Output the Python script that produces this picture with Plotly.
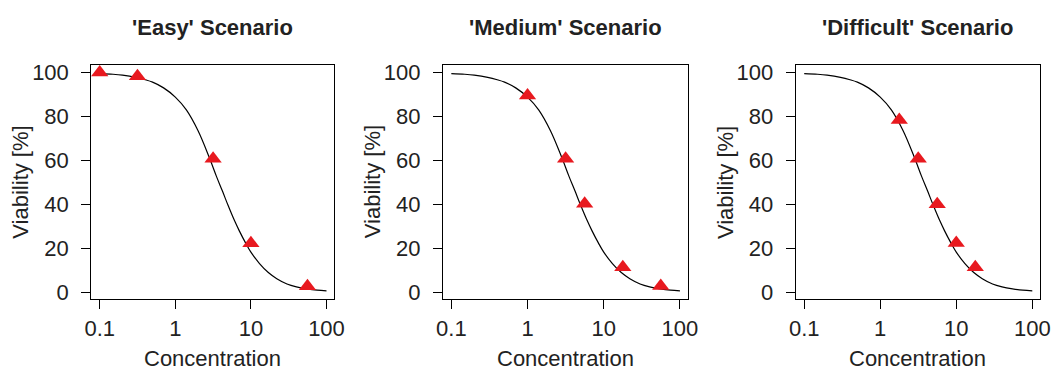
import plotly.graph_objects as go

W, H = 1062, 371

titles = ["'Easy' Scenario", "'Medium' Scenario", "'Difficult' Scenario"]

# observed points (concentration, viability %)
easy_x = [0.1, 0.316, 3.16, 10.0, 56.0]
easy_y = [100.0, 98.3, 60.7, 22.2, 2.7]
medium_x = [1.0, 3.16, 5.62, 17.8, 56.0]
medium_y = [89.5, 60.7, 40.2, 11.3, 2.8]
difficult_x = [1.78, 3.16, 5.62, 10.0, 17.8]
difficult_y = [78.4, 60.7, 40.0, 22.4, 11.3]

# fitted curve at sample concentrations
curve_x = [0.1, 0.15, 0.2, 0.3, 0.4, 0.5, 0.7, 1.0, 1.4, 2.0, 2.8, 3.5, 4.2, 5.0,
           6.0, 7.0, 8.5, 10.0, 13.0, 17.0, 22.0, 30.0, 40.0, 55.0, 75.0, 100.0]
curve_y = [99.5, 99.2, 98.8, 97.8, 96.7, 95.6, 93.0, 88.8, 83.0, 73.5, 61.5, 52.7,
           46.0, 39.4, 32.9, 28.0, 22.4, 18.2, 13.0, 8.9, 6.1, 3.7, 2.4, 1.5, 0.9, 0.6]

x_ticks = [0.1, 1, 10, 100]
x_ticktext = ["0.1", "1", "10", "100"]
y_ticks = [0, 20, 40, 60, 80, 100]

points = [(easy_x, easy_y), (medium_x, medium_y), (difficult_x, difficult_y)]

# plot box pixel extents (left, right) per panel, and vertical box
boxes = [(85.7, 332.7), (443.3, 692.3), (802.3, 1050.7)]
box_top, box_bottom = 61.7, 302.5

FONT = "Liberation Sans, Arial, Helvetica, sans-serif"
TXT = "#222222"

fig = go.Figure()
annotations = []
for i, ((px, py), (l, r)) in enumerate(zip(points, boxes)):
    xa = "x" if i == 0 else f"x{i+1}"
    ya = "y" if i == 0 else f"y{i+1}"
    fig.add_trace(go.Scatter(x=curve_x, y=curve_y, mode="lines", xaxis=xa, yaxis=ya,
                             line=dict(color="black", width=1.2, shape="spline", smoothing=1.0),
                             hoverinfo="skip", showlegend=False))
    fig.add_trace(go.Scatter(x=px, y=py, mode="markers", xaxis=xa, yaxis=ya,
                             marker=dict(symbol="triangle-up", size=15, color="#E8191F",
                                         line=dict(width=0)),
                             showlegend=False, cliponaxis=False))
    axx = dict(domain=[l / W, r / W], type="log", range=[-1.112, 2.1],
               tickvals=x_ticks, ticktext=x_ticktext, ticks="outside", ticklen=9,
               tickcolor="black", tickwidth=1, showline=True, linecolor="black",
               linewidth=1, mirror=True, showgrid=False, zeroline=False,
               tickfont=dict(family=FONT, size=22, color=TXT), anchor=ya,
               ticklabelstandoff=0)
    axy = dict(domain=[1 - box_bottom / H, 1 - box_top / H], range=[-3.3, 103.4],
               tickvals=y_ticks, ticks="outside", ticklen=9, tickcolor="black",
               tickwidth=1, showline=True, linecolor="black", linewidth=1, mirror=True,
               showgrid=False, zeroline=False,
               tickfont=dict(family=FONT, size=22, color=TXT), anchor=xa,
               ticklabelstandoff=8)
    key = "" if i == 0 else str(i + 1)
    fig.layout["xaxis" + key] = axx
    fig.layout["yaxis" + key] = axy
    cx = (l + r) / 2 / W
    annotations.append(dict(text="<b>" + titles[i] + "</b>", x=cx, y=1 - 23 / H,
                            xref="paper", yref="paper", showarrow=False,
                            xanchor="center", yanchor="middle",
                            font=dict(family=FONT, size=22, color=TXT)))
    annotations.append(dict(text="Concentration", x=cx, y=1 - 363 / H,
                            xref="paper", yref="paper", showarrow=False,
                            xanchor="center", yanchor="middle",
                            font=dict(family=FONT, size=22, color=TXT)))
    annotations.append(dict(text="Viability [%]", x=(l - 72) / W, y=1 - (box_top + box_bottom) / 2 / H,
                            xref="paper", yref="paper", showarrow=False, textangle=-90,
                            xanchor="center", yanchor="middle",
                            font=dict(family=FONT, size=22, color=TXT)))

fig.update_layout(width=W, height=H, margin=dict(l=0, r=0, t=0, b=0),
                  plot_bgcolor="white", paper_bgcolor="white",
                  annotations=annotations, showlegend=False)

fig.write_html("out.html")
